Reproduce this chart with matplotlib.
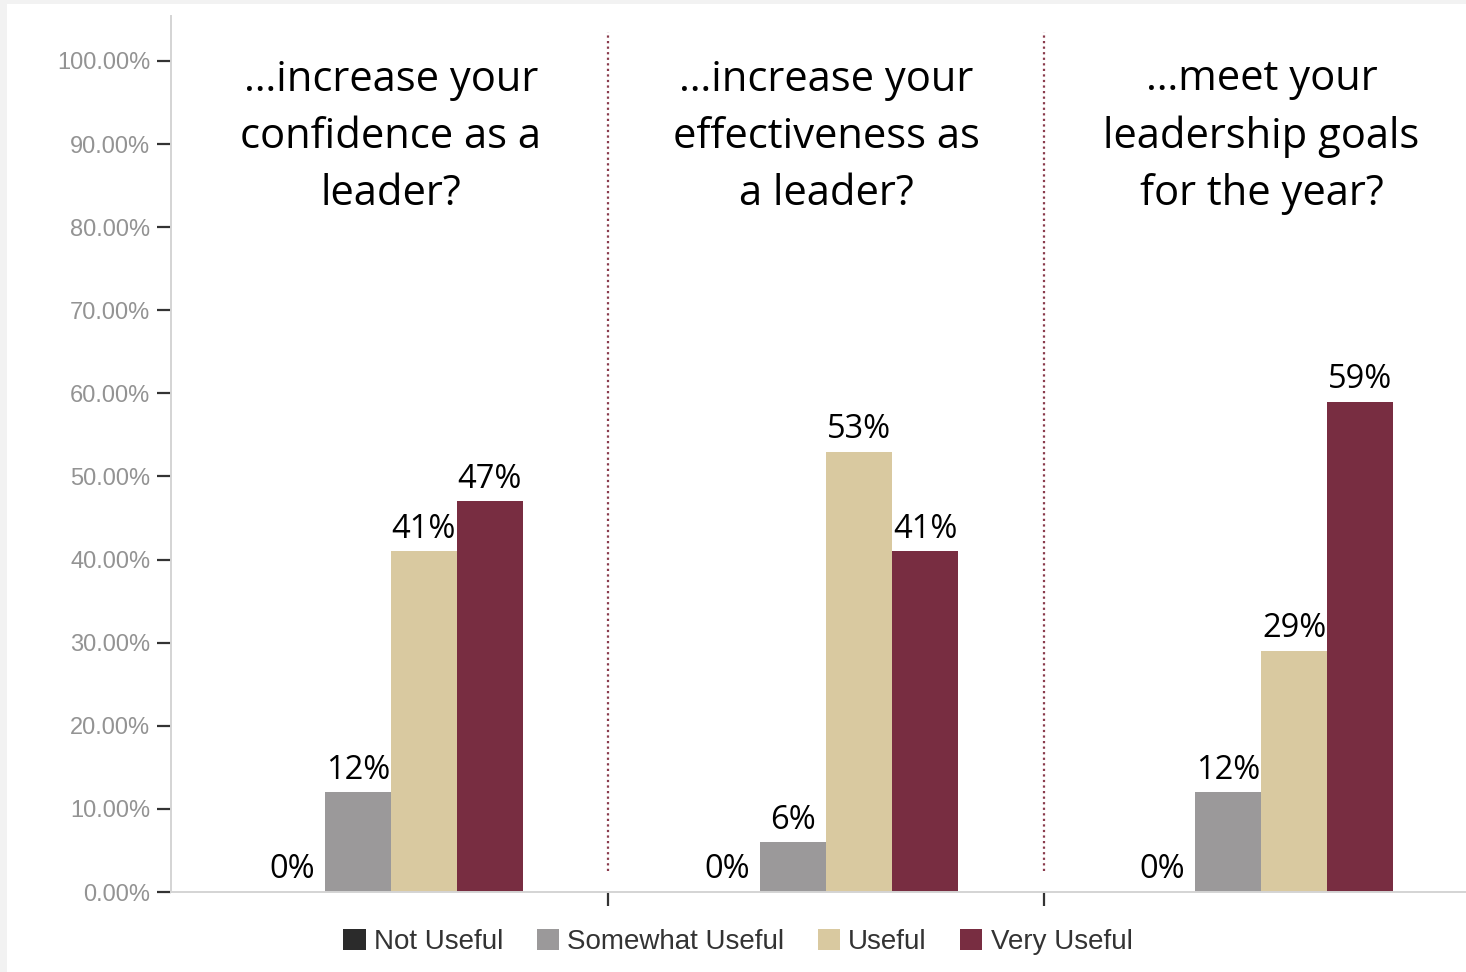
import matplotlib
matplotlib.use("Agg")
import matplotlib.pyplot as plt
from matplotlib.patches import Patch, Rectangle
import numpy as np

# Survey results: how useful was the programme to ...
questions = [
    "\u2026increase your\nconfidence as a\nleader?",
    "\u2026increase your\neffectiveness as\na leader?",
    "\u2026meet your\nleadership goals\nfor the year?",
]
responses = ["Not Useful", "Somewhat Useful", "Useful", "Very Useful"]
not_useful = [0, 0, 0]
somewhat_useful = [12, 6, 12]
useful = [41, 53, 29]
very_useful = [47, 41, 59]
y_ticks = [0, 10, 20, 30, 40, 50, 60, 70, 80, 90, 100]

series = [not_useful, somewhat_useful, useful, very_useful]
colors = ["#2b2b2b", "#9b999a", "#d9c9a0", "#782d41"]

fig = plt.figure(figsize=(14.66, 9.72), dpi=100)
fig.patch.set_facecolor("white")
# light frame strips along the top and left edges
fig.add_artist(Rectangle((0, 1 - 4 / 972), 1, 4 / 972, transform=fig.transFigure,
                         facecolor="#f2f2f2", edgecolor="none", zorder=0))
fig.add_artist(Rectangle((0, 0), 7 / 1466, 1, transform=fig.transFigure,
                         facecolor="#f2f2f2", edgecolor="none", zorder=0))

ax = fig.add_axes([171 / 1466, 1 - 892 / 972, 1 - 171 / 1466, 876 / 972])
ax.set_xlim(-0.505, 2.47)
ax.set_ylim(0, 876 / 8.31)

x = np.arange(len(questions))
width = 0.1517
offsets = (np.arange(len(responses)) - 1.5) * width

label_font = "Open Sans"
for vals, off, col, name in zip(series, offsets, colors, responses):
    bars = ax.bar(x + off, vals, width=width, color=col, label=name, zorder=2)
    for rect, v in zip(bars, vals):
        ax.annotate(f"{v}%", (rect.get_x() + rect.get_width() / 2, v),
                    xytext=(0, 4), textcoords="offset points",
                    ha="center", va="bottom", fontsize=23.5,
                    family=label_font, color="black", zorder=3)

# question headings
for xi, q in zip(x, questions):
    ax.text(xi, 90.9, q, ha="center", va="center", fontsize=30,
            family=label_font, color="black", linespacing=1.47)

# dotted group separators
for sx in (0.5, 1.5):
    ax.plot([sx, sx], [2.5, 103.5], linestyle=(0, (1, 1.5)), color="#8a3b4c",
            linewidth=1.6, zorder=1)

ax.set_yticks(y_ticks)
ax.set_yticklabels([f"{t:.2f}%" for t in y_ticks])
ax.set_xticks([0.5, 1.5])
ax.set_xticklabels([])

ax.tick_params(axis="y", length=10, width=1.6, color="#333333", pad=5,
               labelsize=17, labelcolor="#939393")
ax.tick_params(axis="x", length=10, width=1.6, color="#333333")
for lab in ax.get_yticklabels():
    lab.set_family("Liberation Sans")

for s in ("top", "right"):
    ax.spines[s].set_visible(False)
for s in ("left", "bottom"):
    ax.spines[s].set_color("#d4d4d4")
    ax.spines[s].set_linewidth(1.4)

handles = [Patch(facecolor=c, edgecolor="none", label=n) for c, n in zip(colors, responses)]
leg = fig.legend(handles=handles, loc="center", bbox_to_anchor=(738 / 1466, 1 - 942 / 972),
                 ncol=4, frameon=False, handlelength=0.8, handleheight=0.8,
                 handletextpad=0.3, columnspacing=1.2,
                 prop={"family": "Liberation Sans", "size": 20})
for t in leg.get_texts():
    t.set_color("#333333")

fig.savefig("out.png", dpi=100, facecolor="white")
